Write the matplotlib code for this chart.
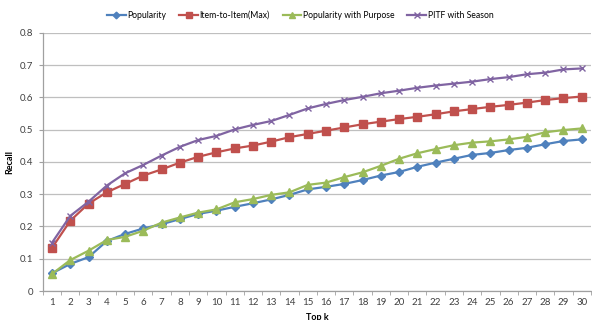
import matplotlib
matplotlib.use("Agg")
from matplotlib import pyplot as plt
import numpy as np

plt.rcParams['font.family'] = ['Lato', 'DejaVu Sans']

# Recall at each top-k cutoff
top_k = list(range(1, 31))

popularity = [0.055, 0.084, 0.105, 0.155, 0.177, 0.194, 0.207, 0.223, 0.239, 0.249,
              0.261, 0.272, 0.284, 0.298, 0.315, 0.323, 0.332, 0.344, 0.358, 0.369,
              0.385, 0.398, 0.410, 0.422, 0.428, 0.437, 0.444, 0.455, 0.465, 0.470]

item_to_item = [0.134, 0.218, 0.271, 0.306, 0.332, 0.358, 0.377, 0.398, 0.416, 0.430,
                0.442, 0.451, 0.463, 0.477, 0.487, 0.497, 0.507, 0.517, 0.525, 0.533,
                0.540, 0.548, 0.557, 0.564, 0.571, 0.577, 0.584, 0.592, 0.598, 0.603]

pop_purpose = [0.053, 0.096, 0.125, 0.158, 0.168, 0.187, 0.212, 0.228, 0.243, 0.253,
               0.275, 0.285, 0.298, 0.306, 0.329, 0.336, 0.353, 0.368, 0.388, 0.410,
               0.427, 0.440, 0.452, 0.460, 0.464, 0.470, 0.478, 0.492, 0.499, 0.504]

pitf_season = [0.150, 0.233, 0.277, 0.327, 0.365, 0.391, 0.420, 0.447, 0.468, 0.481,
               0.501, 0.515, 0.527, 0.546, 0.566, 0.580, 0.592, 0.602, 0.613, 0.621,
               0.630, 0.637, 0.643, 0.649, 0.657, 0.663, 0.672, 0.677, 0.687, 0.690]

fig = plt.figure(figsize=(5.92, 3.2), dpi=100)
ax = fig.add_axes([0.0725, 0.0906, 0.9255, 0.8064])

ax.plot(top_k, popularity, color='#4F81BD', marker='D', markersize=4, linewidth=1.6,
        label='Popularity')
ax.plot(top_k, item_to_item, color='#C0504D', marker='s', markersize=5.5, linewidth=1.6,
        label='Item-to-Item(Max)')
ax.plot(top_k, pop_purpose, color='#9BBB59', marker='^', markersize=5.5, linewidth=1.6,
        label='Popularity with Purpose')
ax.plot(top_k, pitf_season, color='#8064A2', marker='x', markersize=5, markeredgewidth=1,
        linewidth=1.6, label='PITF with Season')

ax.set_xlim(0.5, 30.5)
ax.set_ylim(0, 0.8)
ax.set_yticks(np.arange(0, 0.81, 0.1))
ax.set_yticklabels(['0'] + ['%.1f' % v for v in np.arange(0.1, 0.81, 0.1)])
ax.set_xticks(top_k)
ax.set_xticks(np.arange(0.5, 31, 1), minor=True)

ax.grid(axis='y', color='#BFBFBF', linewidth=0.9)
ax.set_axisbelow(True)
for side in ['top', 'right']:
    ax.spines[side].set_visible(False)
for side in ['left', 'bottom']:
    ax.spines[side].set_color('#A0A0A0')
    ax.spines[side].set_linewidth(0.9)

ax.tick_params(axis='x', which='major', length=0, labelsize=7, colors='#404040', pad=5)
ax.tick_params(axis='x', which='minor', length=3, color='#A0A0A0')
ax.tick_params(axis='y', length=3, color='#A0A0A0', labelsize=7, labelcolor='#404040', pad=4)

ax.set_xlabel('Top k', fontsize=6.5, fontweight='bold', labelpad=4)
ax.set_ylabel('Recall', fontsize=6.5, fontweight='bold')
ax.yaxis.set_label_coords(-0.052, 0.5)

fig.legend(loc='center', bbox_to_anchor=(0.507, 0.953), ncol=4, frameon=False,
           fontsize=6.2, handlelength=2.2, columnspacing=1.5, handletextpad=0.15,
           markerscale=0.85)

fig.savefig('out.png', dpi=100)
